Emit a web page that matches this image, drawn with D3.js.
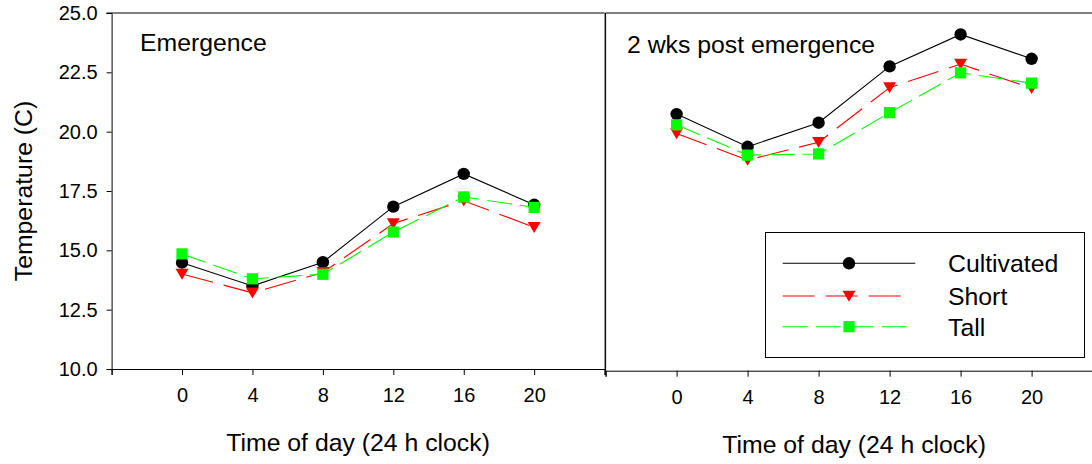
<!DOCTYPE html>
<html>
<head>
<meta charset="utf-8">
<script src="https://cdn.jsdelivr.net/npm/d3@7"></script>
<style>
  html, body { margin: 0; padding: 0; background: #fff; }
  svg { display: block; font-family: Arial, "Liberation Sans", sans-serif; }
</style>
</head>
<body>
<svg id="chart" width="1092" height="464"></svg>
<script>
// ---- data ----
const hours = [0, 4, 8, 12, 16, 20];
const seriesNames = ["Cultivated", "Short", "Tall"];
const panelTitles = ["Emergence", "2 wks post emergence"];
// Emergence panel
const emergenceCultivated = [14.48, 13.50, 14.50, 16.84, 18.22, 16.92];
const emergenceShort      = [14.00, 13.21, 14.07, 16.13, 17.09, 15.97];
const emergenceTall       = [14.85, 13.80, 13.99, 15.77, 17.25, 16.81];
// 2 wks post emergence panel
const postCultivated = [20.76, 19.39, 20.40, 22.76, 24.10, 23.08];
const postShort      = [19.95, 18.83, 19.58, 21.87, 22.86, 21.84];
const postTall       = [20.31, 19.04, 19.09, 20.82, 22.49, 22.06];
const yTicks = [10, 12.5, 15, 17.5, 20, 22.5, 25];
const xTicks = [-4, 0, 4, 8, 12, 16, 20, 24];
const xLabelTicks = [0, 4, 8, 12, 16, 20];
const yTitle = "Temperature (C)";
const xTitle = "Time of day (24 h clock)";

// ---- styles ----
const styles = {
  Cultivated: { color: "#000000", dash: null, marker: "circle" },
  Short:      { color: "#ff0000", dash: "32,11", marker: "triangle" },
  Tall:       { color: "#00ff00", dash: "25,8", marker: "square" }
};
const bigFont = 24.8;

const svg = d3.select("#chart");

function markerPath(type) {
  if (type === "circle") return d3.symbol(d3.symbolCircle, Math.PI * 6.2 * 6.2)();
  if (type === "square") return "M-5.6,-5.6H5.6V5.6H-5.6Z";
  return "M-6.5,-5.3L6.5,-5.3L0,5.7Z"; // down triangle
}

const panels = [
  { x0: 111.6, x1: 604.6, yBottom: 369, yTop: 13, title: panelTitles[0], tx: 140, ty: 51,
    data: [emergenceCultivated, emergenceShort, emergenceTall], showY: true, titleY: 451 },
  { x0: 605.6, x1: 1102.6, yBottom: 370.7, yTop: 13, title: panelTitles[1], tx: 627, ty: 53,
    data: [postCultivated, postShort, postTall], showY: false, titleY: 453 }
];

panels.forEach(p => {
  const x = d3.scaleLinear().domain([-4, 24]).range([p.x0, p.x1]);
  const y = d3.scaleLinear().domain([10, 25]).range([p.yBottom, p.yTop]);
  const g = svg.append("g");

  // x axis
  const xa = g.append("g").attr("transform", `translate(0,${p.yBottom})`)
    .call(d3.axisBottom(x).tickValues(xTicks).tickSize(6).tickPadding(13)
      .tickFormat(d => xLabelTicks.includes(d) ? d : ""));
  xa.select(".domain").attr("stroke", "#000").attr("stroke-width", 1);
  xa.selectAll(".tick line").attr("stroke", "#000");
  xa.selectAll("text").attr("font-size", 20).attr("fill", "#000")
    .attr("font-family", "Arial, 'Liberation Sans', sans-serif");

  // y axis
  if (p.showY) {
    const ya = g.append("g").attr("transform", `translate(${p.x0},0)`)
      .call(d3.axisLeft(y).tickValues(yTicks).tickSize(5).tickPadding(9).tickFormat(d3.format(".1f")));
    ya.select(".domain").attr("stroke", "#000");
    ya.selectAll("text").attr("font-size", 20).attr("fill", "#000")
      .attr("font-family", "Arial, 'Liberation Sans', sans-serif");
  } else {
    g.append("line").attr("x1", p.x0).attr("x2", p.x0).attr("y1", p.yTop).attr("y2", p.yBottom)
      .attr("stroke", "#000");
  }
  // top frame line
  g.append("line").attr("x1", p.showY ? p.x0 - 5 : p.x0).attr("x2", p.x1)
    .attr("y1", p.yTop).attr("y2", p.yTop).attr("stroke", "#000");
  // right frame line for left panel
  if (p.showY) {
    g.append("line").attr("x1", p.x1 + 0.5).attr("x2", p.x1 + 0.5)
      .attr("y1", p.yTop).attr("y2", p.yBottom).attr("stroke", "#000");
  }

  // panel title
  g.append("text").attr("x", p.tx).attr("y", p.ty).attr("font-size", bigFont).text(p.title);
  // x title
  g.append("text").attr("x", (p.x0 + p.x1) / 2).attr("y", p.titleY)
    .attr("text-anchor", "middle").attr("font-size", bigFont).text(xTitle);

  // series
  p.data.forEach((vals, i) => {
    const st = styles[seriesNames[i]];
    const pts = hours.map((h, j) => [h, vals[j]]);
    const line = d3.line().x(d => x(d[0])).y(d => y(d[1]));
    g.append("path").attr("d", line(pts)).attr("fill", "none")
      .attr("stroke", st.color).attr("stroke-width", 1.1)
      .attr("stroke-dasharray", st.dash);
    g.selectAll(null).data(pts).enter().append("path")
      .attr("d", markerPath(st.marker))
      .attr("transform", d => `translate(${x(d[0])},${y(d[1])})`)
      .attr("fill", st.color);
  });
});

// y title
svg.append("text").attr("transform", "translate(31.5,191) rotate(-90)")
  .attr("text-anchor", "middle").attr("font-size", bigFont).text(yTitle);

// legend
const lg = svg.append("g");
lg.append("rect").attr("x", 765.5).attr("y", 232.5).attr("width", 319).attr("height", 125)
  .attr("fill", "#fff").attr("stroke", "#000").attr("stroke-width", 1);
const legendRows = [263.3, 296, 326.7];
seriesNames.forEach((name, i) => {
  const st = styles[name];
  const yy = legendRows[i];
  const x1 = 782.7, x2 = i === 0 ? 915.3 : (i === 1 ? 904 : 907.3);
  lg.append("line").attr("x1", x1).attr("x2", x2).attr("y1", yy).attr("y2", yy)
    .attr("stroke", st.color).attr("stroke-width", 1.1).attr("stroke-dasharray", st.dash);
  lg.append("path").attr("d", markerPath(st.marker))
    .attr("transform", `translate(849,${yy})`).attr("fill", st.color);
  lg.append("text").attr("x", 948).attr("y", yy + 9).attr("font-size", bigFont).text(name);
});
</script>
</body>
</html>
